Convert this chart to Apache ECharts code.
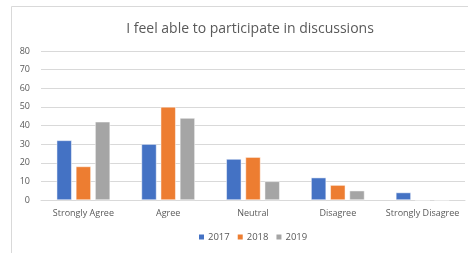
<!DOCTYPE html>
<html>
<head>
<meta charset="utf-8">
<script src="https://cdn.jsdelivr.net/npm/echarts@6/dist/echarts.min.js"></script>
<style>
  html, body { margin: 0; padding: 0; background: #fff; }
  #chart { width: 468px; height: 253px; }
</style>
</head>
<body>
<div id="chart"></div>
<script>
let categories = ["Strongly Agree", "Agree", "Neutral", "Disagree", "Strongly Disagree"];
let years = ["2017", "2018", "2019"];
let values2017 = [32, 30, 22, 12, 4];
let values2018 = [18, 50, 23, 8, 0];
let values2019 = [42, 44, 10, 5, 0];
let colors = ["#4472C4", "#ED7D31", "#A5A5A5"];

let myChart = echarts.init(document.getElementById("chart"));

let makeSeries = function (name, data, i) {
  return {
    name: name,
    type: "bar",
    data: data,
    barWidth: 15,
    barGap: "28%",
    itemStyle: { color: colors[i], borderColor: "#fff", borderWidth: 0.5 },
  };
};

let option = {
  animation: false,
  textStyle: { fontFamily: "Open Sans, Calibri, sans-serif" },
  graphic: [
    {
      type: "rect",
      shape: { x: 11.5, y: 6.5, width: 470, height: 260 },
      style: { fill: "none", stroke: "#d9d9d9", lineWidth: 1 },
    },
  ],
  title: {
    text: "I feel able to participate in discussions",
    left: 245,
    textAlign: "center",
    top: 17,
    textStyle: { fontSize: 14, fontWeight: "normal", color: "#595959" },
  },
  legend: {
    data: years,
    bottom: 6,
    left: 192,
    itemWidth: 7,
    itemHeight: 7,
    itemGap: 6,
    icon: "rect",
    textStyle: { fontSize: 9.5, color: "#595959", padding: [0, 0, 0, -2] },
  },
  grid: { left: 41, right: 3, top: 51, bottom: 53 },
  xAxis: {
    type: "category",
    data: categories,
    axisLine: { lineStyle: { color: "#d9d9d9" } },
    axisTick: { show: false },
    axisLabel: { fontSize: 9, color: "#595959", margin: 9, interval: 0 },
  },
  yAxis: {
    type: "value",
    min: 0,
    max: 80,
    interval: 10,
    axisLine: { show: false },
    axisTick: { show: false },
    axisLabel: { fontSize: 9, color: "#595959", margin: 11 },
    splitLine: { lineStyle: { color: "#d9d9d9" } },
  },
  series: [
    makeSeries(years[0], values2017, 0),
    makeSeries(years[1], values2018, 1),
    makeSeries(years[2], values2019, 2),
  ],
};

option && myChart.setOption(option);
</script>
</body>
</html>
